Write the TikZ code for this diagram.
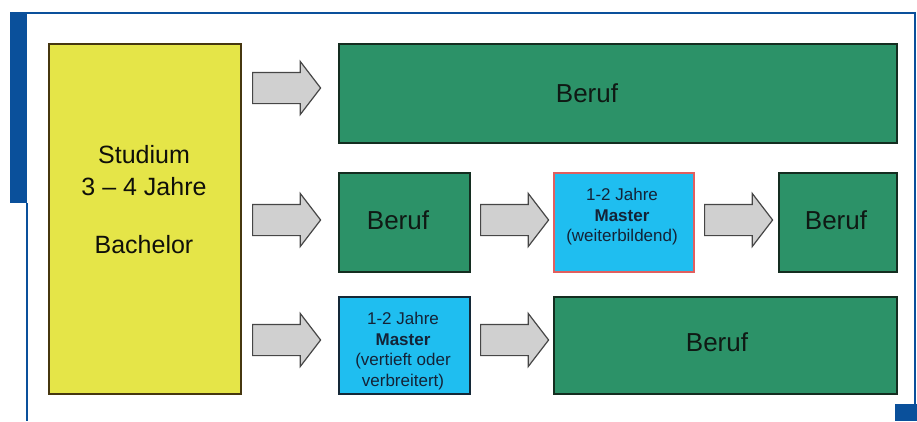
\documentclass[tikz,border=0pt]{standalone}
\usepackage{fontspec}
\setmainfont{Liberation Sans}
\usetikzlibrary{shapes.arrows}
\definecolor{frameblue}{RGB}{10,80,155}
\definecolor{boxgreen}{RGB}{44,146,104}
\definecolor{boxyellow}{RGB}{229,229,72}
\definecolor{boxcyan}{RGB}{31,190,240}
\definecolor{arrowgray}{RGB}{208,208,208}
\tikzset{
  greenbox/.style={draw={rgb,255:red,20;green,45;blue,32}, line width=1.5pt, fill=boxgreen, inner sep=0pt, anchor=north west},
  cyanbox/.style={fill=boxcyan, line width=1.5pt, inner sep=0pt, anchor=north west},
  smalltext/.style={align=center, text={rgb,255:red,20;green,35;blue,55}, font=\fontsize{17}{20.5}\selectfont},
  blockarrow/.style={single arrow, draw={rgb,255:red,70;green,70;blue,70}, line width=1.2pt, fill=arrowgray,
    minimum height=68pt, inner xsep=0pt, inner ysep=15pt, single arrow head extend=11pt, single arrow tip angle=105, anchor=west},
  bigtext/.style={font=\fontsize{26}{30}\selectfont, text={rgb,255:red,15;green,25;blue,20}}
}
\begin{document}
\begin{tikzpicture}[x=1pt,y=-1pt]
\useasboundingbox (0,0) rectangle (917,421);
% frame
\fill[frameblue] (10,12) rectangle (27,203);
\draw[frameblue, line width=2.5pt] (10,13) -- (915,13) -- (915,404);
\draw[frameblue, line width=2.5pt] (27,203) -- (27,421);
\fill[frameblue] (895,404) rectangle (917,421);
% Bachelor
\node[draw={rgb,255:red,70;green,55;blue,15}, line width=1.5pt, fill=boxyellow, anchor=north west, inner sep=0pt,
  minimum width=192pt, minimum height=350pt] (bach) at (48,43) {};
\node[align=center, font=\fontsize{25}{32}\selectfont, text={rgb,255:red,15;green,15;blue,10}] (bachtxt) at (144,200)
  {Studium\\3 -- 4 Jahre\\[26pt]Bachelor};
% row 1
\node[greenbox, minimum width=558pt, minimum height=99pt] (b1) at (338,43) {};
\node[bigtext] (b1txt) at (587,93) {Beruf};
% row 2
\node[greenbox, minimum width=131pt, minimum height=99pt] (b2) at (338,172) {};
\node[bigtext] (b2txt) at (398,220) {Beruf};
\node[cyanbox, draw={rgb,255:red,225;green,95;blue,95}, minimum width=140pt, minimum height=99pt] (m1) at (553,172) {};
\node[smalltext] (m1txt) at (622,217) {1-2 Jahre\\\textbf{Master}\\(weiterbildend)};
\node[greenbox, minimum width=118pt, minimum height=99pt] (b3) at (778,172) {};
\node[bigtext] (b3txt) at (836,220) {Beruf};
% row 3
\node[cyanbox, draw={rgb,255:red,20;green,40;blue,55}, minimum width=131pt, minimum height=97pt] (m2) at (338,296) {};
\node[smalltext] (m2txt) at (403,351) {1-2 Jahre\\\textbf{Master}\\(vertieft oder\\verbreitert)};
\node[greenbox, minimum width=343pt, minimum height=97pt] (b4) at (553,296) {};
\node[bigtext] (b4txt) at (717,342) {Beruf};
% arrows
\node[blockarrow] (a1) at (252,88) {};
\node[blockarrow] (a2) at (252,220) {};
\node[blockarrow] (a3) at (480,220) {};
\node[blockarrow] (a4) at (704,220) {};
\node[blockarrow] (a5) at (252,340) {};
\node[blockarrow] (a6) at (480,340) {};
\end{tikzpicture}
\end{document}
